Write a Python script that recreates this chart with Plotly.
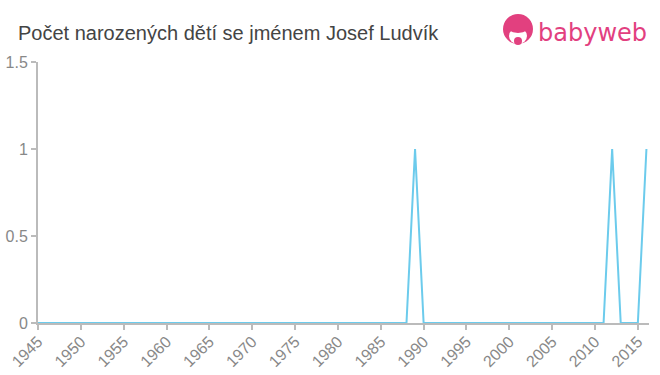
import plotly.graph_objects as go

years = list(range(1945, 2017))
counts = [
    0, 0, 0, 0, 0, 0, 0, 0, 0, 0,   # 1945-1954
    0, 0, 0, 0, 0, 0, 0, 0, 0, 0,   # 1955-1964
    0, 0, 0, 0, 0, 0, 0, 0, 0, 0,   # 1965-1974
    0, 0, 0, 0, 0, 0, 0, 0, 0, 0,   # 1975-1984
    0, 0, 0, 0, 1, 0, 0, 0, 0, 0,   # 1985-1994
    0, 0, 0, 0, 0, 0, 0, 0, 0, 0,   # 1995-2004
    0, 0, 0, 0, 0, 0, 0, 1, 0, 0,   # 2005-2014
    0, 1,                           # 2015-2016
]
x_ticks = list(range(1945, 2016, 5))
y_ticks = [0, 0.5, 1, 1.5]
y_tick_text = ["0", "0.5", "1", "1.5"]
title_text = "Počet narozených dětí se jménem Josef Ludvík"

W, H = 660, 375
ML, MR, MT, MB = 38, 11, 62, 52
PW, PH = W - ML - MR, H - MT - MB


def px(xp):
    return (xp - ML) / PW


def py(yp):
    return (H - MB - yp) / PH


fig = go.Figure()
fig.add_trace(go.Scatter(
    x=years, y=counts, mode="lines",
    line=dict(color="#6ccbec", width=2),
    hoverinfo="skip",
))

axis_common = dict(
    showgrid=False, zeroline=False, showline=True, automargin=False,
    linecolor="#bbbbbb", linewidth=2,
    ticks="outside", tickcolor="#bbbbbb", ticklen=5, tickwidth=2,
)

fig.update_layout(
    width=W, height=H,
    margin=dict(l=ML, r=MR, t=MT, b=MB, autoexpand=False),
    paper_bgcolor="white", plot_bgcolor="white",
    showlegend=False,
    xaxis=dict(range=[1945, 2016.3], tickvals=x_ticks, tickangle=-45,
               ticklabelstandoff=-4,
               tickfont=dict(family="Liberation Sans, Arial, sans-serif", color="#888888", size=16),
               **axis_common),
    yaxis=dict(range=[0, 1.5], tickvals=y_ticks, ticktext=y_tick_text,
               tickfont=dict(family="Liberation Sans, Arial, sans-serif", color="#888888", size=16),
               **axis_common),
)

# title
fig.add_annotation(
    text=title_text, xref="paper", yref="paper",
    x=px(16), y=py(33), xanchor="left", yanchor="middle",
    showarrow=False,
    font=dict(family="Liberation Sans, Arial, sans-serif", size=20, color="#444444"),
)

# logo icon
cx, cy, r = 518, 29, 15
fig.add_shape(type="circle", xref="paper", yref="paper",
              x0=px(cx - r), x1=px(cx + r), y0=py(cy + r), y1=py(cy - r),
              fillcolor="#e2407f", line=dict(width=0))
fig.add_shape(type="circle", xref="paper", yref="paper",
              x0=px(cx - 9), x1=px(cx + 9), y0=py(cy + 15), y1=py(cy - 1),
              fillcolor="white", line=dict(width=0))
fig.add_shape(type="circle", xref="paper", yref="paper",
              x0=px(cx - 13), x1=px(cx + 13), y0=py(cy + 4), y1=py(cy - 14),
              fillcolor="#e2407f", line=dict(width=0))
fig.add_shape(type="circle", xref="paper", yref="paper",
              x0=px(cx - 4), x1=px(cx + 4), y0=py(cy + 16), y1=py(cy + 8),
              fillcolor="#e2407f", line=dict(width=0))
fig.add_annotation(
    text="babyweb", xref="paper", yref="paper",
    x=px(536), y=py(33), xanchor="left", yanchor="middle",
    showarrow=False,
    font=dict(family="DejaVu Sans, sans-serif", size=24, color="#e2407f"),
)

fig.write_html("out.html")
